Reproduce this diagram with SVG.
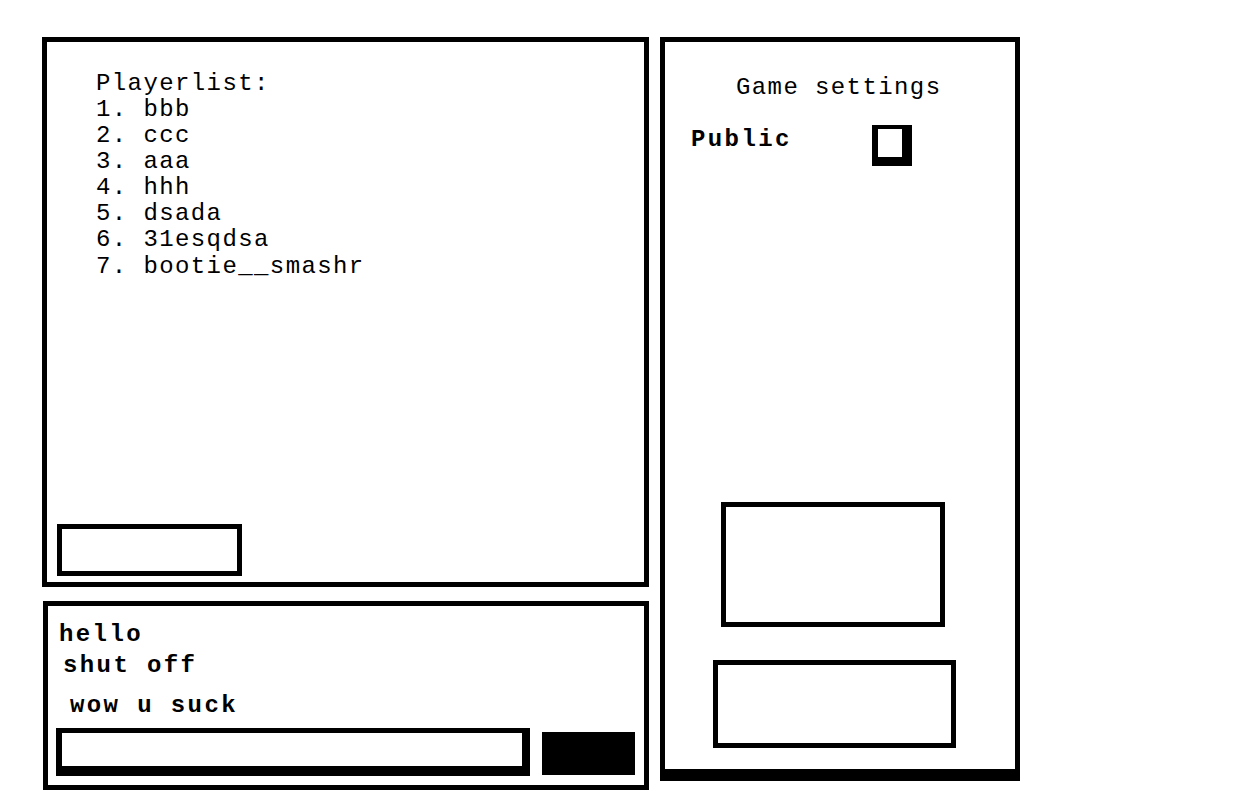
<svg xmlns="http://www.w3.org/2000/svg" width="1259" height="802" viewBox="0 0 1259 802">
<style>
.box{fill:none;stroke:#000;stroke-width:5}
.thin{font-family:"Liberation Mono","DejaVu Sans Mono",monospace;font-size:24px;letter-spacing:1.4px;fill:#000}
.bold{font-family:"Liberation Mono","DejaVu Sans Mono",monospace;font-size:24px;font-weight:bold;letter-spacing:2.4px;fill:#000}
</style>
<rect width="1259" height="802" fill="#fff"/>
<g id="playerlist-panel">
<rect class="box" x="44.5" y="39.5" width="602" height="545"/>
<text class="thin" x="96" y="90">Playerlist:</text>
<text class="thin" x="96" y="116">1. bbb</text>
<text class="thin" x="96" y="142">2. ccc</text>
<text class="thin" x="96" y="168">3. aaa</text>
<text class="thin" x="96" y="194">4. hhh</text>
<text class="thin" x="96" y="220">5. dsada</text>
<text class="thin" x="96" y="246">6. 31esqdsa</text>
<text class="thin" x="96" y="273">7. bootie__smashr</text>
</g>
<g id="playerlist-button">
<rect class="box" x="59.5" y="526.5" width="180" height="47"/>
</g>
<g id="chat-panel">
<rect class="box" x="45.5" y="603.5" width="601" height="184"/>
<text class="bold" x="59" y="641">hello</text>
<text class="bold" x="63" y="672">shut off</text>
<text class="bold" x="70" y="712">wow u suck</text>
</g>
<g id="chat-input">
<rect x="56" y="728" width="474" height="48" fill="#000"/>
<rect x="62" y="733" width="460" height="33" fill="#fff"/>
</g>
<g id="send-button">
<rect x="542" y="732" width="93" height="43" fill="#000"/>
</g>
<g id="settings-panel">
<rect x="660" y="37" width="360" height="744" fill="#000"/>
<rect x="665" y="42" width="350" height="727" fill="#fff"/>
<text class="thin" x="736" y="94">Game settings</text>
<text class="bold" x="691" y="146">Public</text>
</g>
<g id="public-checkbox">
<rect x="872" y="125" width="40" height="41" fill="#000"/>
<rect x="878" y="129" width="24" height="28" fill="#fff"/>
</g>
<g id="settings-box-1">
<rect class="box" x="723.5" y="504.5" width="219" height="120"/>
</g>
<g id="settings-box-2">
<rect class="box" x="715.5" y="662.5" width="238" height="83"/>
</g>
<g id="connectors"></g>
</svg>
